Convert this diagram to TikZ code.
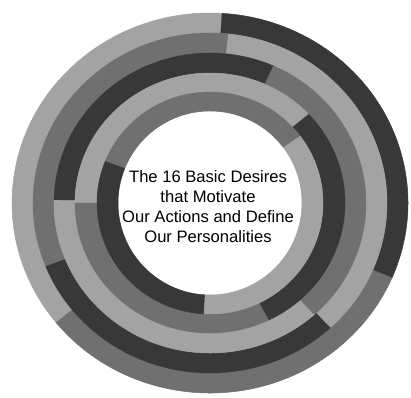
\documentclass[tikz,border=0pt]{standalone}
\usepackage{fontspec}
\setmainfont{Liberation Sans}
\definecolor{lightg}{gray}{0.64}
\definecolor{midg}{gray}{0.44}
\definecolor{darkg}{gray}{0.22}
\newcommand\ringseg[7]{%
  \fill[#7, draw=#7, line width=0.5pt, shift={(210,-203)}]
    (#5:#1 and #2) arc[start angle=#5, end angle=#6, x radius=#1, y radius=#2]
    -- (#6:#3 and #4) arc[start angle=#6, end angle=#5, x radius=#3, y radius=#4]
    -- cycle;}
\begin{document}
\begin{tikzpicture}[x=1pt,y=1pt]
\useasboundingbox (0,0) rectangle (411,-397);
\fill[white] (0,0) rectangle (411,-397);
% ring 1 (outer)
\ringseg{198}{190}{177}{170}{86.5}{219}{lightg}
\ringseg{198}{190}{177}{170}{219}{337}{midg}
\ringseg{198}{190}{177}{170}{337}{446.5}{darkg}
% ring 2
\ringseg{177}{170}{156}{150}{84}{202}{midg}
\ringseg{177}{170}{156}{150}{202}{313}{darkg}
\ringseg{177}{170}{156}{150}{313}{444}{lightg}
% ring 3
\ringseg{156}{150}{135}{130}{66}{179}{darkg}
\ringseg{156}{150}{135}{130}{179}{312}{lightg}
\ringseg{156}{150}{135}{130}{312}{426}{midg}
% ring 4
\ringseg{135}{130}{113}{111}{43}{180}{lightg}
\ringseg{135}{130}{113}{111}{180}{296}{midg}
\ringseg{135}{130}{113}{111}{296}{403}{darkg}
% ring 5 (inner)
\ringseg{113}{111}{92}{92}{37}{158}{midg}
\ringseg{113}{111}{92}{92}{158}{267}{darkg}
\ringseg{113}{111}{92}{92}{267}{397}{lightg}
\node[align=center, font=\fontsize{16.6}{20}\selectfont, inner sep=0pt] (title) at (208,-207)
  {The 16 Basic Desires\\that Motivate\\Our Actions and Define\\Our Personalities};
\end{tikzpicture}
\end{document}
